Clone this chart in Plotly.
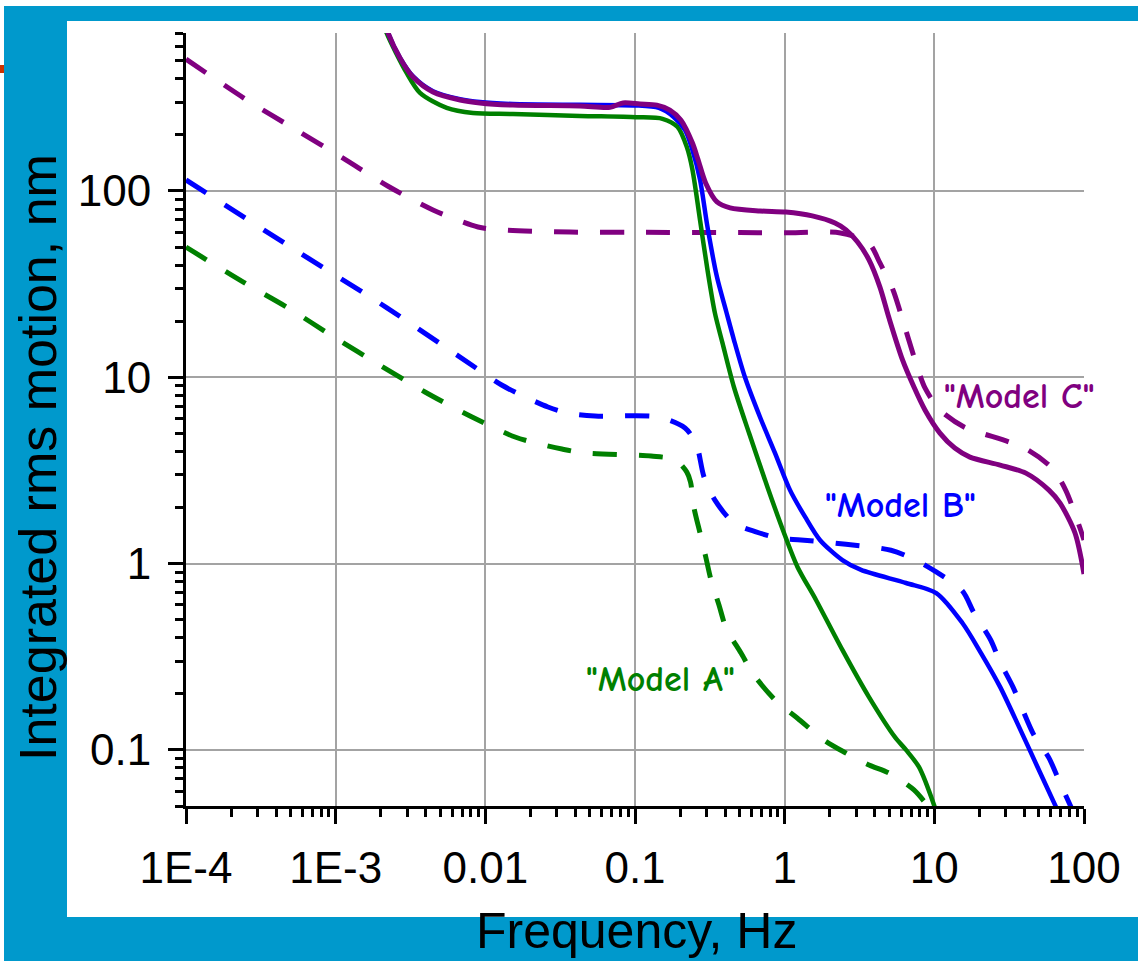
import plotly.graph_objects as go

# ---- Integrated rms motion vs frequency, three ground-motion models ----
# Solid lines: one set of curves; dashed lines: the companion set.

# Model C (purple)
c_solid_f = [0.00207, 0.00224, 0.00269, 0.00329, 0.00447, 0.00678, 0.0092, 0.0153, 0.0428,
             0.068, 0.0832, 0.108, 0.140, 0.171, 0.203, 0.242, 0.264, 0.297, 0.353, 0.432,
             0.684, 1.02, 1.53, 2.17, 2.57, 3.07, 3.66, 4.33, 4.98, 6.13, 7.31, 8.66, 10.9,
             13.7, 17.3, 27.5, 40.9, 58.3, 69.2, 87.1, 100.0]
c_solid_y = [881, 705, 518, 409, 340, 308, 297, 289, 286,
             281, 297, 293, 289, 272, 240, 181, 147, 110, 87.3, 81.1,
             78.1, 77.1, 73.5, 67.3, 61.8, 53.2, 42.7, 30.5, 20.8, 12.4, 8.87, 6.68, 5.02,
             4.17, 3.73, 3.38, 3.06, 2.48, 2.11, 1.46, 0.88]
c_dash_f = [1.0e-4, 2.68e-4, 5.49e-4, 1.12e-3, 2.24e-3, 4.47e-3, 8.93e-3, 0.0131, 0.0368,
            0.1, 0.5, 1.0, 2.36, 3.64, 4.33, 5.29, 5.95, 7.50, 8.66, 10.9, 15.8, 20.5,
            31.5, 42.2, 61.1, 75.4, 100.0]
c_dash_y = [510, 300, 212, 150, 106, 79.1, 64.1, 61.8, 60.2,
            60.0, 59.8, 59.7, 59.5, 52.6, 41.1, 29.5, 22.1, 12.1, 8.77, 6.68, 5.41, 5.02,
            4.50, 4.07, 3.26, 2.48, 1.34]

# Model B (blue)
b_solid_f = [0.00207, 0.00224, 0.00269, 0.00329, 0.00447, 0.00678, 0.0092, 0.0153, 0.0428,
             0.1, 0.1445, 0.182, 0.216, 0.242, 0.272, 0.305, 0.353, 0.406, 0.458, 0.543,
             0.684, 0.861, 1.086, 1.37, 1.72, 2.43, 3.24, 6.47, 10.3, 15.4, 20.5, 27.5,
             36.8, 48.9, 65.0]
b_solid_y = [881, 705, 518, 412, 343, 311, 300, 293, 290,
             288, 279, 249, 212, 166, 115, 64.1, 34.5, 22.7, 15.9, 10.0,
             6.12, 3.93, 2.48, 1.78, 1.34, 1.045, 0.925, 0.787, 0.695, 0.480, 0.331, 0.218,
             0.133, 0.081, 0.0494]
b_dash_f = [1.0e-4, 5.49e-4, 2.20e-3, 6.44e-3, 0.01285, 0.01785, 0.0262, 0.0356, 0.054,
            0.1445, 0.216, 0.248, 0.264, 0.289, 0.342, 0.458, 0.643, 0.916, 1.285, 2.57,
            5.13, 7.50, 10.3, 15.4, 18.4, 23.8, 27.5, 33.5, 46.3, 58.3, 69.2, 81.9]
b_dash_y = [114.6, 47.7, 23.6, 13.2, 9.09, 7.94, 6.93, 6.43, 6.20,
            6.12, 5.35, 4.61, 4.07, 2.92, 2.19, 1.65, 1.48, 1.37, 1.34, 1.27,
            1.18, 1.045, 0.902, 0.713, 0.543, 0.389, 0.296, 0.218, 0.120, 0.0906, 0.0664, 0.0494]

# Model A (green)
a_solid_f = [0.00201, 0.00219, 0.00298, 0.00366, 0.00552, 0.00827, 0.0153, 0.0428, 0.1015,
             0.1527, 0.192, 0.222, 0.242, 0.272, 0.305, 0.342, 0.384, 0.458, 0.578, 0.767,
             0.99, 1.218, 1.62, 2.43, 3.66, 5.46, 6.47, 7.89, 9.95, 10.4]
a_solid_y = [881, 705, 430, 336, 279, 262, 259, 253, 249,
             244, 221, 172, 130, 69.8, 37.7, 22.1, 15.3, 8.87, 5.02, 2.58,
             1.46, 0.96, 0.638, 0.344, 0.192, 0.117, 0.1, 0.081, 0.0506, 0.045]
a_dash_f = [1.0e-4, 2.40e-4, 4.80e-4, 9.9e-4, 1.98e-3, 3.95e-3, 7.90e-3, 0.0158, 0.0232,
            0.0325, 0.0456, 0.128, 0.1866, 0.222, 0.235, 0.248, 0.272, 0.297, 0.322, 0.364,
            0.406, 0.511, 0.624, 0.889, 1.218, 1.83, 2.49, 3.66, 4.98, 7.31, 8.93]
a_dash_y = [50.0, 32.5, 23.6, 16.3, 11.6, 8.34, 6.20, 4.78, 4.38,
            4.12, 3.93, 3.78, 3.60, 3.10, 2.74, 1.99, 1.46, 1.085, 0.817, 0.600,
            0.451, 0.331, 0.252, 0.181, 0.148, 0.113, 0.0975, 0.083, 0.0751, 0.061, 0.0506]

# Axis ticks
x_tickvals = [1e-4, 1e-3, 1e-2, 1e-1, 1, 10, 100]
x_ticktext = ["1E-4", "1E-3", "0.01", "0.1", "1", "10", "100"]
y_tickvals = [0.1, 1, 10, 100]
y_ticktext = ["0.1", "1", "10", "100"]

model_labels = ['"Model A"', '"Model B"', '"Model C"']

GREEN = "#008000"
BLUE = "#0000ff"
PURPLE = "#800080"
FRAME = "#0099cc"
DASH = "24px,22px"

fig = go.Figure()
series = [
    (a_dash_f, a_dash_y, GREEN, DASH, 5),
    (b_dash_f, b_dash_y, BLUE, DASH, 5),
    (c_dash_f, c_dash_y, PURPLE, DASH, 5),
    (a_solid_f, a_solid_y, GREEN, "solid", 4.5),
    (b_solid_f, b_solid_y, BLUE, "solid", 4.5),
    (c_solid_f, c_solid_y, PURPLE, "solid", 5),
]
for fx, fy, col, dash, lw in series:
    fig.add_trace(go.Scatter(
        x=fx, y=fy, mode="lines",
        line=dict(color=col, width=lw, dash=dash, shape="spline", smoothing=0.8),
        showlegend=False, hoverinfo="skip"))

# minor tick positions (2..9 within each decade)
x_minor = [k * 10.0 ** n for n in range(-4, 2) for k in range(2, 10)]
y_minor = [k * 10.0 ** n for n in range(-2, 3) for k in range(2, 10)]

W, H = 1138, 961
ML, MR, MT, MB = 186, 54, 33, 155
PW, PH = W - ML - MR, H - MT - MB


def px_x(px):
    return (px - ML) / PW


def px_y(py):
    return (H - MB - py) / PH


axis_common = dict(
    type="log",
    showline=True, linecolor="black", linewidth=3,
    ticks="outside", ticklen=15, tickwidth=3, tickcolor="black",
    showgrid=True, gridcolor="#a3a3a3", gridwidth=1.6,
    zeroline=False, mirror=False,
    tickfont=dict(family="Liberation Sans, Arial, sans-serif", size=44, color="black"),
)

fig.update_xaxes(
    **axis_common,
    range=[-4, 2],
    tickmode="array", tickvals=x_tickvals, ticktext=x_ticktext,
    ticklabelstandoff=6,
    minor=dict(tickmode="array", tickvals=x_minor, ticks="outside", ticklen=8,
               tickwidth=2.5, tickcolor="black", showgrid=False),
)
fig.update_yaxes(
    **axis_common,
    range=[-1.301, 2.848],
    tickmode="array", tickvals=y_tickvals, ticktext=y_ticktext,
    ticklabelstandoff=8,
    minor=dict(tickmode="array", tickvals=y_minor, ticks="outside", ticklen=8,
               tickwidth=2.5, tickcolor="black", showgrid=False),
)

shapes = [
    # blue frame
    dict(type="rect", xref="paper", yref="paper", layer="below",
         x0=px_x(4), x1=px_x(1145), y0=px_y(970), y1=px_y(6),
         fillcolor=FRAME, line=dict(width=0)),
    # white panel
    dict(type="rect", xref="paper", yref="paper", layer="below",
         x0=px_x(67), x1=px_x(1145), y0=px_y(917), y1=px_y(21),
         fillcolor="white", line=dict(width=0)),
    # small red tab at the left edge
    dict(type="rect", xref="paper", yref="paper", layer="below",
         x0=px_x(-2), x1=px_x(4), y0=px_y(73), y1=px_y(65),
         fillcolor="#cc3300", line=dict(width=0)),
]

label_font = "Comic Sans MS, Comic Neue, DejaVu Sans, sans-serif"
annotations = [
    dict(text="Frequency, Hz", xref="paper", yref="paper",
         x=px_x(636), y=px_y(931), xanchor="center", yanchor="middle",
         showarrow=False,
         font=dict(family="Liberation Sans, Arial, sans-serif", size=50, color="black")),
    dict(text="Integrated rms motion, nm", xref="paper", yref="paper",
         x=px_x(38), y=px_y(458), xanchor="center", yanchor="middle",
         textangle=-90, showarrow=False,
         font=dict(family="Liberation Sans, Arial, sans-serif", size=52, color="black")),
    dict(text=model_labels[0], xref="paper", yref="paper",
         x=px_x(660), y=px_y(679), xanchor="center", yanchor="middle", showarrow=False,
         font=dict(family=label_font, size=36, color=GREEN, weight="bold")),
    dict(text=model_labels[1], xref="paper", yref="paper",
         x=px_x(900), y=px_y(506), xanchor="center", yanchor="middle", showarrow=False,
         font=dict(family=label_font, size=36, color=BLUE, weight="bold")),
    dict(text=model_labels[2], xref="paper", yref="paper",
         x=px_x(1019), y=px_y(396), xanchor="center", yanchor="middle", showarrow=False,
         font=dict(family=label_font, size=36, color=PURPLE, weight="bold")),
]

fig.update_layout(
    width=W, height=H,
    margin=dict(l=ML, r=MR, t=MT, b=MB, pad=0),
    paper_bgcolor="white", plot_bgcolor="white",
    shapes=shapes, annotations=annotations,
    showlegend=False,
)

fig.write_html("out.html", config={"displayModeBar": False})
